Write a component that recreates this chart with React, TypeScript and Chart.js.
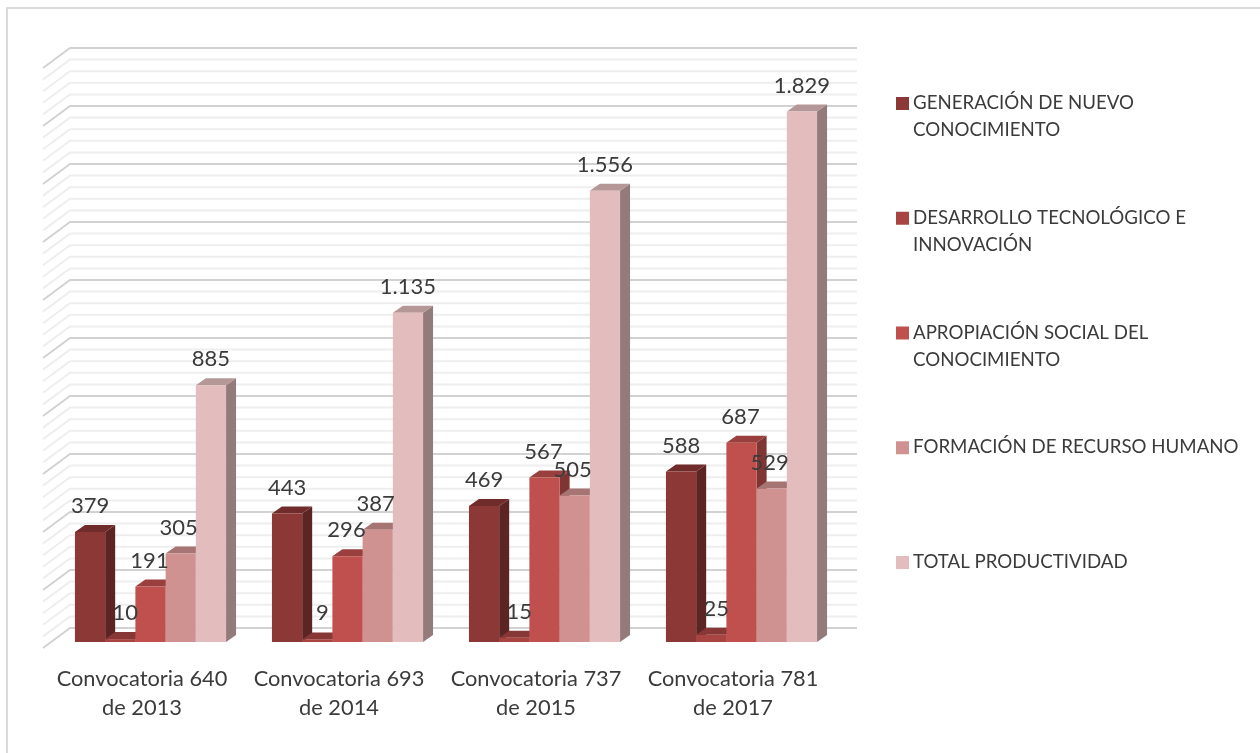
import React, { useEffect, useRef } from "react";
import { Chart, registerables } from "chart.js";

Chart.register(...registerables);

const categories: string[][] = [
  ["Convocatoria 640", "de 2013"],
  ["Convocatoria 693", "de 2014"],
  ["Convocatoria 737", "de 2015"],
  ["Convocatoria 781", "de 2017"],
];

const generacion = [379, 443, 469, 588];
const desarrollo = [10, 9, 15, 25];
const apropiacion = [191, 296, 567, 687];
const formacion = [305, 387, 505, 529];
const total = [885, 1135, 1556, 1829];

const seriesNames: string[][] = [
  ["GENERACIÓN DE NUEVO", "CONOCIMIENTO"],
  ["DESARROLLO TECNOLÓGICO E", "INNOVACIÓN"],
  ["APROPIACIÓN SOCIAL DEL", "CONOCIMIENTO"],
  ["FORMACIÓN DE RECURSO HUMANO"],
  ["TOTAL PRODUCTIVIDAD"],
];
const seriesValues = [generacion, desarrollo, apropiacion, formacion, total];

const frontColors = ["#8C3836", "#A84543", "#C0504D", "#D09291", "#E3BDBD"];
const topColors = ["#702C2A", "#873735", "#993F3D", "#A67473", "#B59797"];
const sideColors = ["#5C2422", "#6F2D2B", "#7E3533", "#895F5F", "#947B7B"];

const FONT = "Lato, Carlito, sans-serif";
const TEXT_COLOR = "#3B3B3B";

// Oblique depth of each bar, and of the floor under the wall gridlines.
const BAR_DEPTH = { x: 10, y: -7 };
const WALL_OFFSET = { x: 18, y: -14 };
const FLOOR_OFFSET = { x: -9, y: 6 };
const WALL_OVERHANG = 17;
// The near-zero series sits its labels clear of the neighbouring bar.
const LABEL_SHIFT_X = [0, 5, -1, -2, 0];

const formatValue = (v: number) => String(v).replace(/\B(?=(\d{3})+$)/g, ".");

// Draws the oblique wall grid, the extruded bars, value labels and side legend.
const pseudo3d = {
  id: "pseudo3d",
  beforeDatasetsDraw(chart: any) {
    const { ctx, scales, chartArea } = chart;
    const y = scales.y;

    ctx.save();
    ctx.lineCap = "butt";
    y.ticks.forEach((tick: any) => {
      const py = y.getPixelForValue(tick.value);
      const major = tick.value % 200 === 0;
      ctx.strokeStyle = major ? "#D2D2D2" : "#EEEEEE";
      ctx.lineWidth = 2;
      ctx.beginPath();
      ctx.moveTo(chartArea.left + FLOOR_OFFSET.x, py + FLOOR_OFFSET.y);
      ctx.lineTo(chartArea.left + WALL_OFFSET.x, py + WALL_OFFSET.y);
      ctx.lineTo(chartArea.right + WALL_OVERHANG, py + WALL_OFFSET.y);
      ctx.stroke();
    });

    seriesValues.forEach((_, i) => {
      const meta = chart.getDatasetMeta(i);
      meta.data.forEach((bar: any) => {
        const half = bar.width / 2;
        const l = bar.x - half;
        const r = bar.x + half;
        const t = bar.y;
        const b = bar.base;
        ctx.fillStyle = sideColors[i];
        ctx.beginPath();
        ctx.moveTo(r, t);
        ctx.lineTo(r + BAR_DEPTH.x, t + BAR_DEPTH.y);
        ctx.lineTo(r + BAR_DEPTH.x, b + BAR_DEPTH.y);
        ctx.lineTo(r, b);
        ctx.closePath();
        ctx.fill();
        ctx.fillStyle = topColors[i];
        ctx.beginPath();
        ctx.moveTo(l, t);
        ctx.lineTo(l + BAR_DEPTH.x, t + BAR_DEPTH.y);
        ctx.lineTo(r + BAR_DEPTH.x, t + BAR_DEPTH.y);
        ctx.lineTo(r, t);
        ctx.closePath();
        ctx.fill();
      });
      meta.controller.draw();
    });
    ctx.restore();
    return false;
  },
  afterDraw(chart: any) {
    const { ctx } = chart;
    ctx.save();
    ctx.textAlign = "center";
    ctx.textBaseline = "middle";
    ctx.fillStyle = TEXT_COLOR;
    ctx.font = `22px ${FONT}`;
    seriesValues.forEach((values, i) => {
      const meta = chart.getDatasetMeta(i);
      meta.data.forEach((bar: any, j: number) => {
        ctx.fillText(formatValue(values[j]), bar.x + LABEL_SHIFT_X[i], bar.y - 26);
      });
    });

    const legendX = 896;
    const legendTop = 103;
    const legendStep = 114.75;
    ctx.textAlign = "left";
    ctx.font = `18.7px ${FONT}`;
    seriesNames.forEach((lines, i) => {
      const cy = legendTop + i * legendStep;
      ctx.fillStyle = frontColors[i];
      ctx.fillRect(legendX, cy - 6, 13, 13);
      ctx.fillStyle = TEXT_COLOR;
      lines.forEach((line, k) => ctx.fillText(line, legendX + 17, cy + k * 27));
    });
    ctx.restore();
  },
};

export default function App() {
  const ref = useRef<HTMLCanvasElement>(null);

  useEffect(() => {
    const chart = new Chart(ref.current!, {
      type: "bar",
      plugins: [pseudo3d],
      data: {
        labels: categories,
        datasets: seriesValues.map((data, i) => ({
          label: seriesNames[i].join(" "),
          data,
          backgroundColor: frontColors[i],
          borderWidth: 0,
          categoryPercentage: 0.767,
          barPercentage: 1,
        })),
      },
      options: {
        animation: false,
        responsive: false,
        layout: { padding: { left: 52, top: 62, right: 420, bottom: 0 } },
        plugins: { legend: { display: false }, tooltip: { enabled: false } },
        scales: {
          x: {
            grid: { display: false },
            border: { display: false },
            afterFit: (scale: any) => {
              scale.height = 111;
            },
            ticks: {
              color: TEXT_COLOR,
              padding: 14,
              labelOffset: -8.5,
              maxRotation: 0,
              autoSkip: false,
              font: { family: FONT, size: 21.8, lineHeight: 1.33 },
            },
          },
          y: {
            display: false,
            min: 0,
            max: 2000,
            ticks: { stepSize: 40, maxTicksLimit: 60, autoSkip: false, font: { size: 6 } },
          },
        },
      } as any,
    });
    return () => chart.destroy();
  }, []);

  return (
    <div style={{ position: "absolute", left: 0, top: 0, width: 1260, height: 753, background: "#fff" }}>
      <div style={{ position: "absolute", left: 6, top: 7, right: 0, bottom: 0, borderTop: "2px solid #DADADA", borderLeft: "2px solid #DADADA" }} />
      <canvas ref={ref} width={1260} height={753} style={{ position: "absolute", left: 0, top: 0 }} />
    </div>
  );
}
